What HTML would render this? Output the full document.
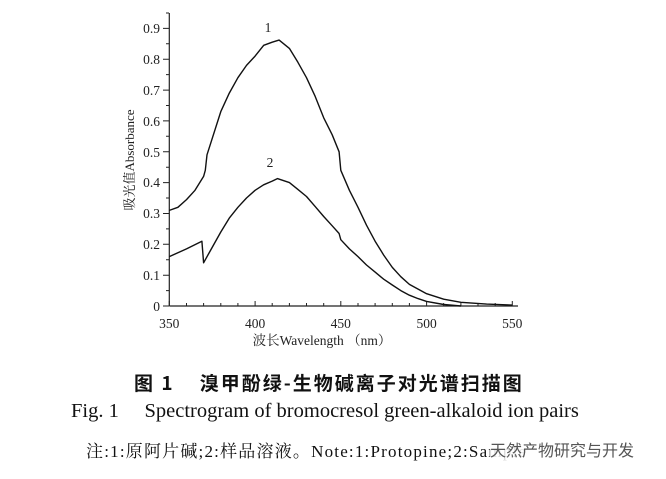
<!DOCTYPE html>
<html><head><meta charset="utf-8"><style>
body{margin:0;background:#fff;width:666px;height:479px;overflow:hidden;position:relative;font-family:"Liberation Serif","Noto Serif CJK SC",serif;color:#111}
.t{position:absolute;white-space:nowrap}
</style></head><body>
<svg width="666" height="479" style="position:absolute;left:0;top:0" font-family="Liberation Serif, Noto Serif CJK SC, serif">
<g stroke="#222" stroke-width="1.2" fill="none">
<line x1="169.3" y1="13" x2="169.3" y2="306"/>
<line x1="169.3" y1="306" x2="518" y2="306"/>
</g>
<g stroke="#222" stroke-width="1">
<path d="M163 306H169M163 275.2H169M163 244.3H169M163 213.5H169M163 182.6H169M163 151.8H169M163 120.9H169M163 90.1H169M163 59.2H169M163 28.4H169"/>
<path d="M166 290.6H169M166 259.7H169M166 228.9H169M166 198H169M166 167.2H169M166 136.3H169M166 105.5H169M166 74.6H169M166 43.8H169M166 13H169"/>
<path d="M186.5 306v-3M203.6 306v-3M220.8 306v-3M237.9 306v-3M272.2 306v-3M289.4 306v-3M306.5 306v-3M323.7 306v-3M358 306v-3M375.1 306v-3M392.3 306v-3M409.4 306v-3M443.7 306v-3M460.9 306v-3M478 306v-3M495.2 306v-3"/>
<path d="M255.1 306v-5M340.8 306v-5M426.6 306v-5M512.3 306v-5M169.3 306v-5"/>
</g>
<g font-size="13.5" fill="#222" text-anchor="end">
<text x="160" y="311">0</text><text x="160" y="280">0.1</text><text x="160" y="249">0.2</text><text x="160" y="218">0.3</text><text x="160" y="187">0.4</text><text x="160" y="157">0.5</text><text x="160" y="126">0.6</text><text x="160" y="95">0.7</text><text x="160" y="64">0.8</text><text x="160" y="33">0.9</text>
</g>
<g font-size="13.5" fill="#222" text-anchor="middle">
<text x="169.3" y="328">350</text><text x="255.1" y="328">400</text><text x="340.8" y="328">450</text><text x="426.6" y="328">500</text><text x="512.3" y="328">550</text>
<text x="322" y="345">波长Wavelength （nm）</text>
<text x="268" y="32">1</text><text x="270" y="167">2</text>
</g>
<text transform="translate(134,160) rotate(-90)" font-size="13" fill="#222" text-anchor="middle">吸光值Absorbance</text>
<g fill="none" stroke="#111" stroke-width="1.4" stroke-linejoin="round">
<polyline points="169.3,210.4 177.9,207.3 186.5,199.6 195,190.3 203.6,176.4 205.3,170.3 207,154.8 220.8,111.6 229.3,93.1 237.9,77.7 246.5,65.4 255.1,56.1 263.7,45.3 272.2,42.2 279.1,40.1 289.4,48.4 297.9,62.3 306.5,77.7 315.1,96.2 323.7,117.8 332.2,134.8 339.1,151.8 340.8,170.3 349.4,190.3 358,207.3 366.5,225.2 375.1,241.2 383.7,255.1 392.3,267.4 400.8,276.7 409.4,284.4 426.6,293.7 443.7,299.2 460.9,302.3 486.6,304.1 512.3,305.1"/>
<polyline points="169.3,256.6 186.5,248.9 201.9,241.2 203.6,262.8 208.7,253.6 220.8,232 229.3,218.1 237.9,207.3 246.5,198 255.1,190.3 263.6,184.8 272.2,181.1 277.4,178.6 289.4,182.6 297.9,189.4 306.5,196.5 315.1,206.4 323.7,216.5 332.2,225.8 339.1,233.5 340.8,239.7 349.4,248.9 358,256.6 366.5,265 375.1,272.1 383.7,279.2 392.3,285 400.8,290.6 409.4,295.2 418,298.6 426.6,301.4 443.7,304.5 460.9,306"/>
</g>
</svg>
<div class="t" style="left:134px;top:369px;font-size:19px;letter-spacing:2px;font-weight:bold;font-family:'Noto Sans CJK SC',sans-serif">图 1&nbsp;&nbsp;&nbsp;&nbsp;溴甲酚绿-生物碱离子对光谱扫描图</div>
<div class="t" style="left:71px;top:400px;font-size:20.5px">Fig. 1&nbsp;&nbsp;&nbsp;&nbsp;&nbsp;Spectrogram of bromocresol green-alkaloid ion pairs</div>
<div class="t" style="left:86px;top:437px;font-size:17px;letter-spacing:1.2px">注:1:原阿片碱;2:样品溶液。Note:1:Protopine;2:Sample</div>
<div class="t" style="left:490px;top:437px;font-size:16px;color:#555;font-family:'Noto Sans CJK SC',sans-serif;background:rgba(255,255,255,0.85)">天然产物研究与开发</div>
</body></html>
